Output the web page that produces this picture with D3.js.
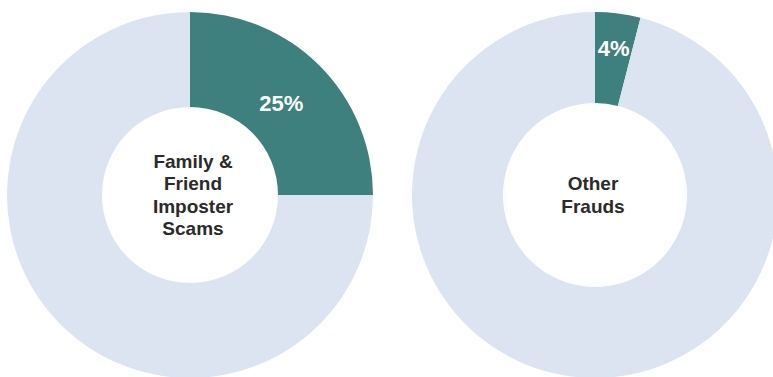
<!DOCTYPE html>
<html>
<head>
<meta charset="utf-8">
<script src="https://cdn.jsdelivr.net/npm/d3@7"></script>
<style>
  body { margin: 0; background: #fff; }
  svg { display: block; }
</style>
</head>
<body>
<div id="chart"></div>
<script>
// data
const charts = ["Family & Friend Imposter Scams", "Other Frauds"];
const shares = [25, 4];
const centerLines = [["Family &", "Friend", "Imposter", "Scams"], ["Other", "Frauds"]];

const width = 773, height = 377;
const teal = "#3d807d", pale = "#dbe4f0", textColor = "#2b2b2b";

// layout for each donut
const centers = [[190, 195], [595, 195]];
const outerR = 183;
const innerR = [88, 92];
const labelR = [129, 148];

const svg = d3.select("#chart")
    .append("svg")
    .attr("width", width)
    .attr("height", height);

const pie = d3.pie().sort(null).value(d => d);

for(let i=0;i<charts.length;i++) {
    let g = svg.append("g")
        .attr("transform", `translate(${centers[i][0]},${centers[i][1]})`);
    let arc = d3.arc().innerRadius(innerR[i]).outerRadius(outerR);
    let arcs = pie([shares[i], 100 - shares[i]]);

    g.selectAll("path")
     .data(arcs)
     .enter()
     .append("path")
     .attr("d", arc)
     .attr("fill", (d, j) => j == 0 ? teal : pale);

    // percentage label along the middle angle of the slice
    let a = (arcs[0].startAngle + arcs[0].endAngle) / 2;
    g.append("text")
     .attr("x", Math.sin(a) * labelR[i])
     .attr("y", -Math.cos(a) * labelR[i])
     .attr("text-anchor", "middle")
     .attr("dominant-baseline", "central")
     .attr("fill", "#fff")
     .style("font-family", "'Liberation Sans', Arial, sans-serif")
     .style("font-weight", "bold")
     .style("font-size", "22px")
     .text(shares[i] + "%");

    // center title
    let lines = centerLines[i];
    let lh = 22.4;
    let t = g.append("text")
        .attr("text-anchor", "middle")
        .attr("fill", textColor)
        .style("font-family", "'Liberation Sans', Arial, sans-serif")
        .style("font-weight", "bold")
        .style("font-size", "19px");
    lines.forEach((l, k) => {
        t.append("tspan")
         .attr("x", i == 0 ? 3 : -2)
         .attr("y", (k - (lines.length - 1) / 2) * lh)
         .attr("dominant-baseline", "central")
         .text(l);
    });
}
</script>
</body>
</html>
